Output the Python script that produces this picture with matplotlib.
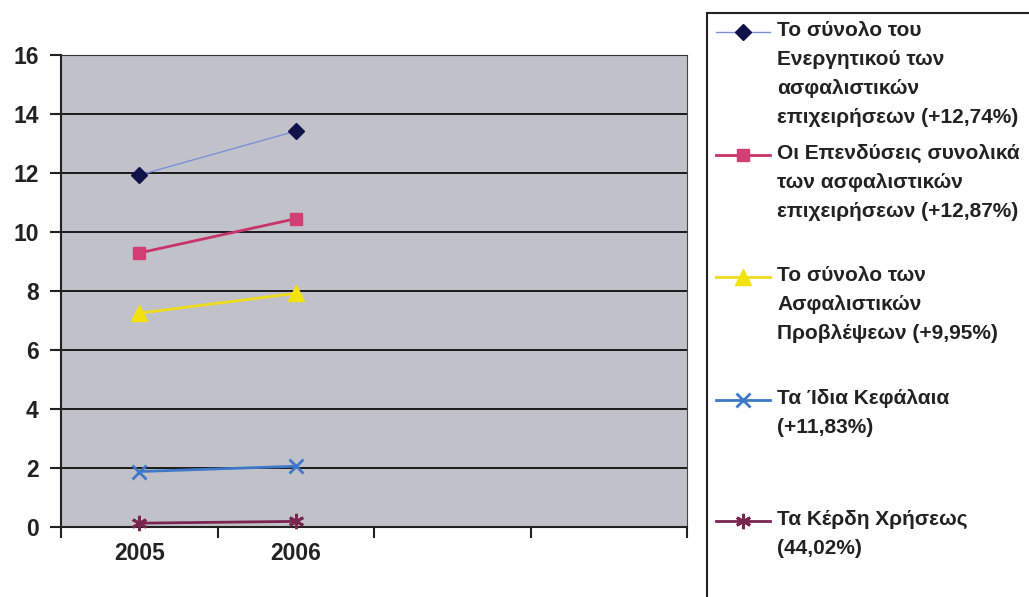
import matplotlib
matplotlib.use("Agg")
import matplotlib.pyplot as plt
from matplotlib.lines import Line2D
from matplotlib.patches import Rectangle

categories = ["2005", "2006", "", ""]
years = ["2005", "2006"]
assets = [11.93, 13.42]
investments = [9.29, 10.45]
provisions = [7.25, 7.92]
equity = [1.88, 2.06]
profits = [0.13, 0.19]
yticks = [0, 2, 4, 6, 8, 10, 12, 14, 16]

labels = [
    "Το σύνολο του\nΕνεργητικού των\nασφαλιστικών\nεπιχειρήσεων (+12,74%)",
    "Οι Επενδύσεις συνολικά\nτων ασφαλιστικών\nεπιχειρήσεων (+12,87%)",
    "Το σύνολο των\nΑσφαλιστικών\nΠροβλέψεων (+9,95%)",
    "Τα Ίδια Κεφάλαια\n(+11,83%)",
    "Τα Κέρδη Χρήσεως\n(44,02%)",
]

plt.rcParams['font.family'] = ['Liberation Sans', 'DejaVu Sans']

W, H = 1029, 597
fig = plt.figure(figsize=(W / 100, H / 100), dpi=100)
fig.patch.set_facecolor("white")
ax = fig.add_axes([61 / W, 1 - 527 / H, (687 - 61) / W, (527 - 55) / H])
ax.set_facecolor("#c1c2c9")

x = list(range(len(years)))
styles = [
    dict(color="#7d8fd8", lw=1.0, marker="D", ms=8, mfc="#10124a", mec="#10124a"),
    dict(color="#c8346a", lw=2.0, marker="s", ms=9, mfc="#d23f72", mec="#d23f72"),
    dict(color="#eedc1c", lw=2.0, marker="^", ms=11, mfc="#f2e20e", mec="#f2e20e"),
    dict(color="#3f78c8", lw=2.0, marker="x", ms=10, mew=2, mfc="#3f78c8", mec="#3f78c8"),
    dict(color="#7a2450", lw=2.0, marker=(6, 2, 0), ms=11, mew=2, mfc="#7a2450", mec="#7a2450"),
]
series = [assets, investments, provisions, equity, profits]
for vals, st in zip(series, styles):
    ax.plot(x, vals, zorder=3, clip_on=False, **st)

ax.set_xlim(-0.5, len(categories) - 0.5)
ax.set_ylim(0, 16)
ax.set_yticks(yticks)
ax.set_yticklabels([str(v) for v in yticks], fontsize=16.5, fontweight="bold", color="#222222")
ax.yaxis.grid(True, color="#1a1a1a", lw=1.4)
ax.set_axisbelow(True)
ax.set_xticks(range(len(categories)))
ax.set_xticklabels(categories, fontsize=16.5, fontweight="bold", color="#222222")
ax.set_xticks([i - 0.5 for i in range(len(categories) + 1)], minor=True)
ax.tick_params(axis="x", which="major", length=0, pad=11)
ax.tick_params(axis="x", which="minor", length=8, width=1.5, color="#222222", direction="out")
ax.tick_params(axis="y", length=8, width=1.5, color="#222222", direction="out", pad=8)
for s in ["left", "bottom"]:
    ax.spines[s].set_color("#222222")
    ax.spines[s].set_linewidth(1.5)
ax.spines["top"].set_color("#333333")
ax.spines["right"].set_color("#444444")

# Legend box (clipped at right and bottom like the reference)
fig.add_artist(Rectangle((707 / W, -0.05), 0.5, 1 - 13 / H + 0.05, transform=fig.transFigure,
                         facecolor="white", edgecolor="#222222", lw=1.5))
first_line_y = [32, 155, 277, 400, 521]
for lab, st, yy in zip(labels, styles, first_line_y):
    yf = 1 - yy / H
    h = Line2D([716 / W, 743 / W, 770 / W], [yf, yf, yf], transform=fig.transFigure,
               markevery=[1], **st)
    fig.add_artist(h)
    fig.text(777 / W, 1 - (yy - 11) / H, lab, fontsize=15, fontweight="bold", color="#222222",
             va="top", ha="left", linespacing=1.66, transform=fig.transFigure)

fig.savefig("out.png", dpi=100, facecolor="white")
